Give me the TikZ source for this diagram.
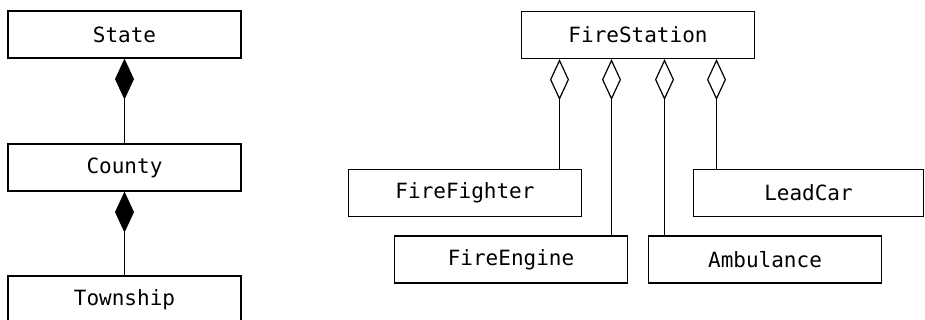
\documentclass[tikz,border=0pt]{standalone}
\usepackage{fontspec}
\setmonofont{DejaVu Sans Mono}
\usetikzlibrary{arrows.meta}

\begin{document}
\begin{tikzpicture}[x=0.5pt, y=-0.5pt, line width=0.6pt,
    cls/.style={draw, rectangle, inner sep=0pt, minimum width=116.5pt,
        minimum height=23.5pt, font=\ttfamily\fontsize{10.5}{12}\selectfont},
    compose/.style={-{Diamond[length=20.5pt, width=9.5pt]}},
    aggregate/.style={-{Diamond[open, length=20.5pt, width=9.5pt]}}]
    \useasboundingbox (0,0) rectangle (925,320);
    \clip (0,0) rectangle (925,320);

    % Composition chain
    \node[cls] (state) at (124.5, 34.5) {State};
    \node[cls] (county) at (124.5, 167.5) {County};
    \node[cls] (township) at (124.5, 299.5) {Township};
    \draw[compose] (county) -- (state);
    \draw[compose] (township) -- (county);

    % Aggregation
    \node[cls] (station) at (638, 35) {FireStation};
    \node[cls] (fighter) at (465, 193) {FireFighter};
    \node[cls] (engine) at (511, 259.5) {FireEngine};
    \node[cls] (ambulance) at (765, 259.5) {Ambulance};
    \node[cls, minimum width=115pt] (leadcar) at (808.5, 193) {LeadCar};
    \foreach \dx/\part in {-78.5/fighter, -26.5/engine, 26.5/ambulance, 78.5/leadcar} {
        \coordinate (top) at ([xshift=\dx*0.5pt]station.south);
        \draw[aggregate] (top |- \part.north) -- (top);
    }
\end{tikzpicture}
\end{document}
